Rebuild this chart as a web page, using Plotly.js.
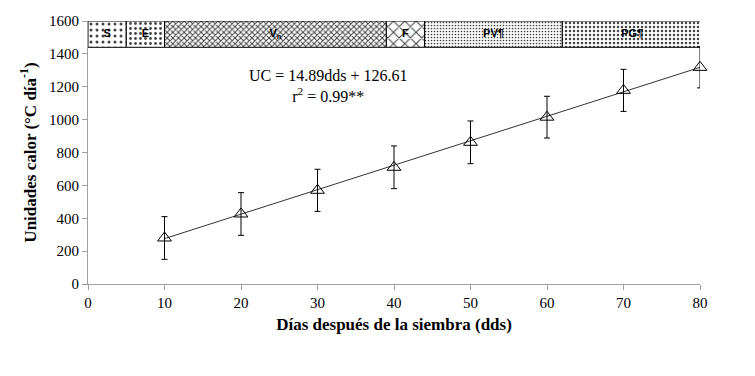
<!DOCTYPE html>
<html><head><meta charset="utf-8">
<script src="https://cdn.plot.ly/plotly-3.0.1.min.js"></script>
<style>body{margin:0;background:#fff}#c{width:755px;height:376px}</style>
</head><body><div id="c"></div>
<script>
const days = [10, 20, 30, 40, 50, 60, 70, 80];
const heatUnits = [280, 426, 570, 710, 862, 1015, 1178, 1318];
const errUnits = [130, 130, 128, 130, 130, 127, 128, 125];
const trendX = [10, 80];
const trendY = [276, 1318];
const stageNames = ["S", "E", "V<sub>n</sub>", "F", "PV¶", "PG¶"];
const stageStart = [0, 5, 10, 39, 44, 62];
const stageEnd = [5, 10, 39, 44, 62, 80.3];
const stagePatterns = [".", ".", "x", "x", ".", "."];
const stageSizes = [6, 5, 4, 8, 3, 4];
const stageSolidity = [0.2, 0.25, 0.45, 0.25, 0.25, 0.3];
const yTicks = [0, 200, 400, 600, 800, 1000, 1200, 1400, 1600];
const xTicks = [0, 10, 20, 30, 40, 50, 60, 70, 80];
const barY = 1520, barH = 160;

const serif = "Liberation Serif, Times New Roman, serif";
const traces = [{
  type: "bar", orientation: "h", textposition: "none",
  y: stageNames.map(() => barY),
  x: stageEnd.map((e, i) => e - stageStart[i]),
  base: stageStart,
  width: stageNames.map(() => barH),
  marker: {color: "white", line: {color: "#000", width: 1},
    pattern: {shape: stagePatterns, fgcolor: "#444", bgcolor: "white",
      size: stageSizes, solidity: stageSolidity}},
  hoverinfo: "skip", showlegend: false
}, {
  type: "scatter", mode: "text", cliponaxis: false,
  x: stageStart.map((s, i) => (s + stageEnd[i]) / 2),
  y: stageNames.map(() => barY),
  text: stageNames.map(n => "<b>" + n + "</b>"),
  textposition: "middle center",
  textfont: {family: "Liberation Sans, Arial, sans-serif", size: 11, color: "#000"},
  hoverinfo: "skip", showlegend: false
}, {
  x: trendX, y: trendY, mode: "lines", type: "scatter",
  line: {color: "#333", width: 1}, showlegend: false, hoverinfo: "skip"
}, {
  x: days, y: heatUnits, mode: "markers", type: "scatter", cliponaxis: false,
  marker: {symbol: "triangle-up-open", size: 12, color: "#000", line: {width: 1, color: "#000"}},
  error_y: {type: "data", array: errUnits, visible: true, color: "#000", thickness: 1, width: 3},
  showlegend: false
}];

const annotations = [{
  x: 31.5, y: 1205, xref: "x", yref: "y", showarrow: false,
  text: "UC = 14.89dds + 126.61<br>r<sup>2</sup> = 0.99**",
  font: {family: serif, size: 16, color: "#000"}, align: "center"
}];

const layout = {
  width: 755, height: 376,
  margin: {l: 88, r: 55, t: 21, b: 92},
  paper_bgcolor: "white", plot_bgcolor: "white",
  barmode: "overlay",
  font: {family: serif, size: 15, color: "#000"},
  xaxis: {
    range: [0, 80], tickvals: xTicks, showgrid: false, zeroline: false,
    showline: true, linecolor: "#a0a0a0", linewidth: 1,
    ticks: "outside", ticklen: 5, tickcolor: "#a0a0a0",
    tickfont: {family: serif, size: 15},
    title: {text: "<b>Días después de la siembra (dds)</b>", font: {family: serif, size: 17}, standoff: 8}
  },
  yaxis: {
    range: [0, 1600], tickvals: yTicks, showgrid: false, zeroline: false,
    showline: true, linecolor: "#a0a0a0", linewidth: 1,
    ticks: "outside", ticklen: 5, tickcolor: "#a0a0a0",
    tickfont: {family: serif, size: 15},
    title: {text: "<b>Unidades calor (°C día<sup>-1</sup>)</b>", font: {family: serif, size: 17}, standoff: 8}
  },
  annotations: annotations
};
Plotly.newPlot("c", traces, layout, {displayModeBar: false, staticPlot: true});
</script></body></html>
